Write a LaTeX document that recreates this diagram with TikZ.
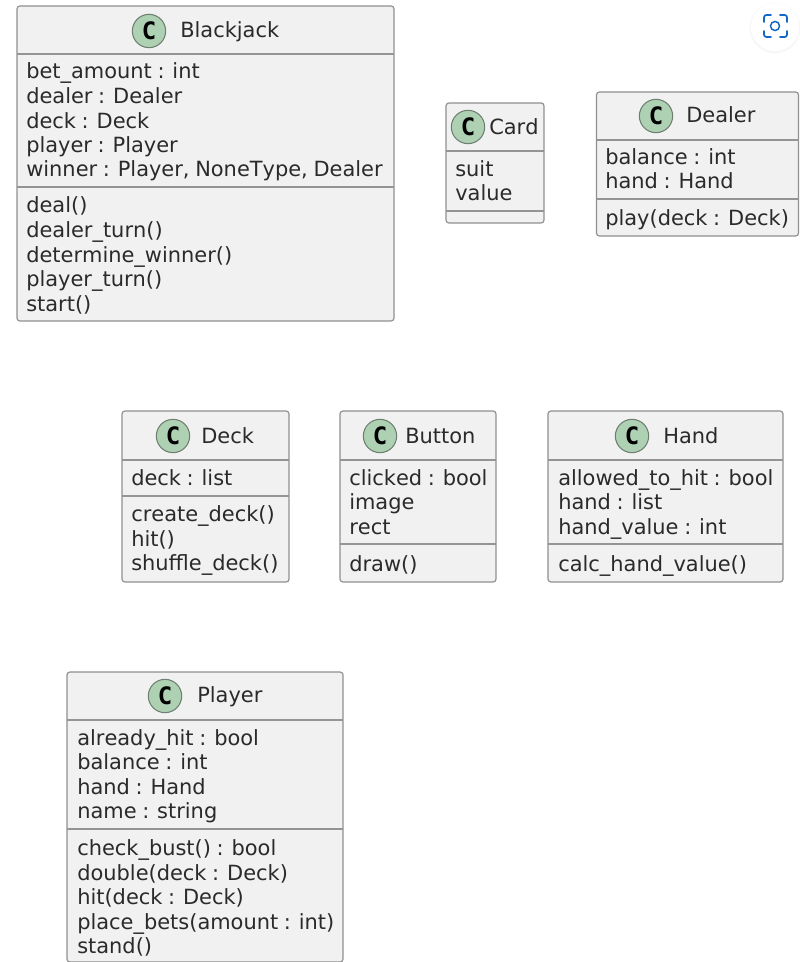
\documentclass[tikz,border=0pt]{standalone}
\usepackage{fontspec}
\setmainfont[WordSpace=0.85,Kerning=Off]{DejaVu Sans}
\newfontfamily\spotfont{DejaVu Sans Mono}
\definecolor{boxfill}{HTML}{F1F1F1}
\definecolor{boxline}{HTML}{909090}
\definecolor{sepline}{HTML}{949494}
\definecolor{spotfill}{HTML}{ADD1B2}
\definecolor{spotline}{HTML}{6F7F72}
\definecolor{inktext}{HTML}{2A2A2A}
\definecolor{lensblue}{HTML}{1467C4}
\newcommand{\umlbox}[6]{% name, x1, y1, x2, y2, extra
  \node[classbox, minimum width={(#4-#2)*0.75pt}, minimum height={(#5-#3)*0.75pt}] (#1) at ({(#2+#4)/2},{(#3+#5)/2}) {};
}
\newcommand{\umlsep}[4]{\draw[sepstyle] (#1,#3) -- (#2,#3);}
\newcommand{\umlspot}[3]{\node[spot] (#1) at (#2,#3) {\spotfont\bfseries C};}
\newcommand{\umltext}[4]{\node[rowtext] (#1) at (#2,#3) {#4};}
\tikzset{
  classbox/.style={draw=boxline, fill=boxfill, line width=0.9pt, rounded corners=2.2pt, inner sep=0pt, outer sep=0pt},
  sepstyle/.style={draw=sepline, line width=0.8pt},
  spot/.style={circle, draw=spotline, fill=spotfill, line width=0.8pt, minimum size=25pt, inner sep=0pt, text=black, font=\fontsize{18}{18}\selectfont},
  rowtext/.style={anchor=base west, inner sep=0pt, yshift=-0.5pt, text=inktext, font=\fontsize{15.7}{18}\selectfont},
}
\begin{document}
\begin{tikzpicture}[x=0.75pt, y=-0.75pt]
\useasboundingbox[fill=white] (0,0) rectangle (799,962);

% lens button
\fill[black!3] (775,28) circle (19pt);
\fill[white] (775,27) circle (18pt);
\draw[lensblue, line width=1.3pt, line cap=round, rounded corners=1.8pt]
  (764,22) -- (764,15) -- (771,15) (780,15) -- (787,15) -- (787,22)
  (787,31) -- (787,37) -- (780,37) (771,37) -- (764,37) -- (764,31);
\draw[lensblue, line width=1.1pt] (775,26) circle (3.4pt);

% Blackjack
\umlbox{blackjack}{17}{6}{394}{321}{}
\umlsep{17}{394}{54}{}
\umlsep{17}{394}{187}{}
\umlspot{bjspot}{149}{31}
\umltext{bjt}{180}{37}{Blackjack}
\umltext{bja}{26}{78}{bet\_amount : int}
\umltext{bjb}{26}{103}{dealer : Dealer}
\umltext{bjc}{26}{128}{deck : Deck}
\umltext{bjd}{26}{152}{player : Player}
\umltext{bje}{26}{176}{winner : Player, NoneType, Dealer}
\umltext{bjf}{26}{212}{deal()}
\umltext{bjg}{26}{237}{dealer\_turn()}
\umltext{bjh}{26}{262}{determine\_winner()}
\umltext{bji}{26}{286}{player\_turn()}
\umltext{bjj}{26}{311}{start()}

% Card
\umlbox{card}{446}{103}{544}{223}{}
\umlsep{446}{544}{151}{}
\umlsep{446}{544}{211}{}
\umlspot{cardspot}{468}{127}
\umltext{cat}{489}{134}{Card}
\umltext{caa}{455}{176}{suit}
\umltext{cab}{455}{200}{value}

% Dealer
\umlbox{dealer}{596.5}{92}{798.5}{236}{}
\umlsep{596.5}{798.5}{140}{}
\umlsep{596.5}{798.5}{199}{}
\umlspot{dealerspot}{656}{116}
\umltext{det}{686}{122}{Dealer}
\umltext{dea}{605}{164}{balance : int}
\umltext{deb}{605}{188}{hand : Hand}
\umltext{dec}{605}{225}{play(deck : Deck)}

% Deck
\umlbox{deck}{122}{411}{289}{582}{}
\umlsep{122}{289}{460}{}
\umlsep{122}{289}{496}{}
\umlspot{deckspot}{173}{436}
\umltext{dkt}{201}{443}{Deck}
\umltext{dka}{131}{485}{deck : list}
\umltext{dkb}{131}{521}{create\_deck()}
\umltext{dkc}{131}{546}{hit()}
\umltext{dkd}{131}{570}{shuffle\_deck()}

% Button
\umlbox{button}{340}{411}{496}{582}{}
\umlsep{340}{496}{460}{}
\umlsep{340}{496}{544}{}
\umlspot{buttonspot}{380}{436}
\umltext{but}{405}{443}{Button}
\umltext{bua}{349}{485}{clicked : bool}
\umltext{bub}{349}{509}{image}
\umltext{buc}{349}{534}{rect}
\umltext{bud}{349}{571}{draw()}

% Hand
\umlbox{hand}{548}{411}{783}{582}{}
\umlsep{548}{783}{460}{}
\umlsep{548}{783}{544}{}
\umlspot{handspot}{632}{436}
\umltext{hat}{663}{443}{Hand}
\umltext{haa}{558}{485}{allowed\_to\_hit : bool}
\umltext{hab}{558}{509}{hand : list}
\umltext{hac}{558}{534}{hand\_value : int}
\umltext{had}{558}{571}{calc\_hand\_value()}

% Player
\umlbox{player}{67}{672}{343}{962}{}
\umlsep{67}{343}{720}{}
\umlsep{67}{343}{829}{}
\umlspot{playerspot}{165}{696}
\umltext{plt}{197}{702}{Player}
\umltext{pla}{77}{745}{already\_hit : bool}
\umltext{plb}{77}{769}{balance : int}
\umltext{plc}{77}{794}{hand : Hand}
\umltext{pld}{77}{818}{name : string}
\umltext{ple}{77}{855}{check\_bust() : bool}
\umltext{plf}{77}{880}{double(deck : Deck)}
\umltext{plg}{77}{904}{hit(deck : Deck)}
\umltext{plh}{77}{929}{place\_bets(amount : int)}
\umltext{pli}{77}{953}{stand()}
\end{tikzpicture}
\end{document}
